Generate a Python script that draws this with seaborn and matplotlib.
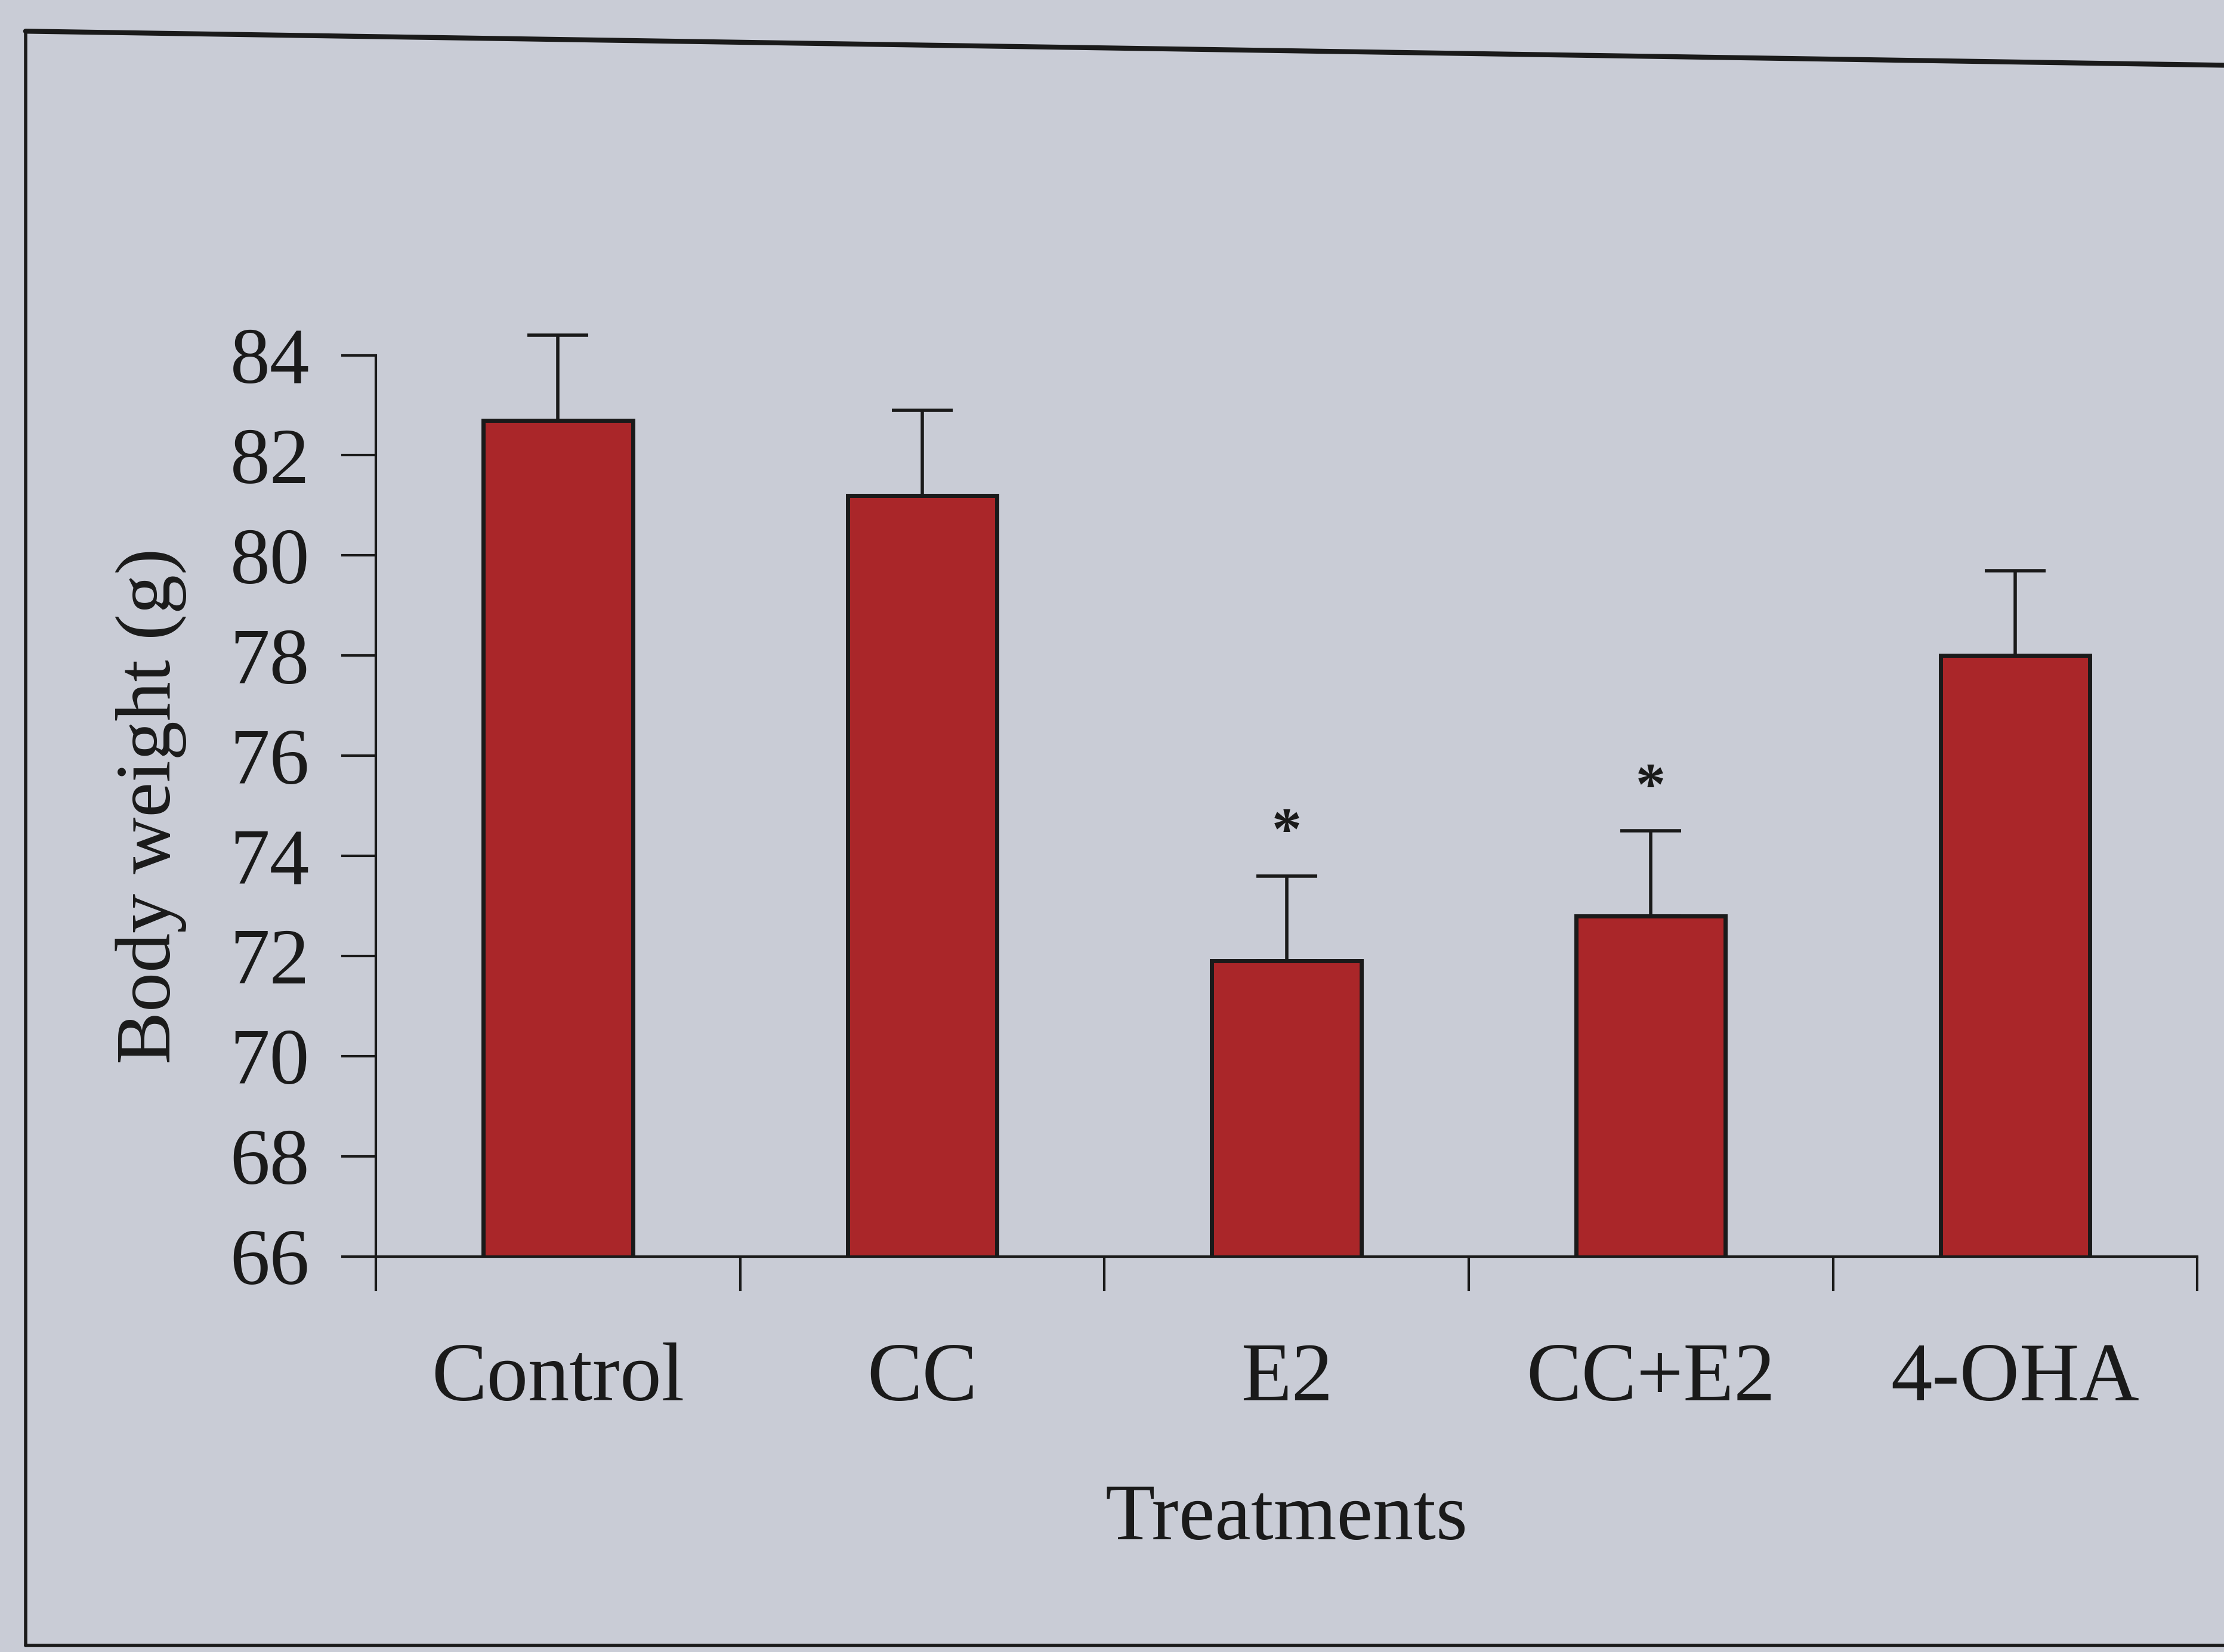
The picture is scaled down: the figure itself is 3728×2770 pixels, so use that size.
import matplotlib
matplotlib.use("Agg")
import matplotlib.pyplot as plt
import seaborn as sns
import pandas as pd
from matplotlib.lines import Line2D

categories = ["Control", "CC", "E2", "CC+E2", "4-OHA"]
means = [82.7, 81.2, 71.9, 72.8, 78.0]
errors = [1.7, 1.7, 1.7, 1.7, 1.7]
signif = ["", "", "*", "*", ""]
yticks = [66, 68, 70, 72, 74, 76, 78, 80, 82, 84]

sns.set_theme(style="white")
plt.rcParams['font.family'] = ['Liberation Serif', 'DejaVu Serif']

bg = "#c9ccd6"
ink = "#1a1a1a"
fig = plt.figure(figsize=(37.28, 27.70), dpi=100, facecolor=bg)
ax = fig.add_axes([0.169, 0.2395, 0.819, 0.5455])
ax.set_facecolor(bg)

df = pd.DataFrame({"Treatment": categories, "Weight": means})
sns.barplot(data=df, x="Treatment", y="Weight", color="#aa2629", width=0.41,
            edgecolor=ink, linewidth=5, ax=ax, saturation=1, errorbar=None)

eb = ax.errorbar(range(len(categories)), means, yerr=[[0]*len(errors), errors],
                 fmt="none", ecolor=ink, elinewidth=4, capsize=37, capthick=4, zorder=5)
for artist in list(eb.lines[1]) + list(eb.lines[2]):
    artist.set_clip_on(False)

for i, (m, e, s) in enumerate(zip(means, errors, signif)):
    if s:
        ax.text(i, m + e + 0.3, s, ha="center", va="bottom", fontsize=72,
                fontweight="bold", color=ink)

ax.set_ylim(66, 84)
ax.set_xlim(-0.5, len(categories) - 0.5)
ax.set_yticks(yticks)
ax.set_yticklabels([str(t) for t in yticks], fontsize=96)
ax.set_xticks([i - 0.5 for i in range(len(categories) + 1)])
ax.set_xticklabels([])
ax.set_xticks(range(len(categories)), minor=True)
ax.set_xticklabels(categories, minor=True, fontsize=100)
ax.tick_params(axis="x", which="major", direction="out", length=42, width=3, color=ink, bottom=True)
ax.tick_params(axis="x", which="minor", length=0, pad=104, labelcolor=ink)
ax.tick_params(axis="y", direction="out", length=42, width=3, color=ink, left=True, pad=38, labelcolor=ink)

for side in ["top", "right"]:
    ax.spines[side].set_visible(False)
for side in ["left", "bottom"]:
    ax.spines[side].set_color(ink)
    ax.spines[side].set_linewidth(3)

ax.set_xlabel("Treatments", fontsize=98, labelpad=78, color=ink)
ax.set_ylabel("Body weight (g)", fontsize=95, labelpad=52, color=ink)

# outer frame (photographed page box; top edge slightly tilted)
x0, yb = 0.0115, 0.004
fig.add_artist(Line2D([x0, x0], [yb, 1 - 22/1165], transform=fig.transFigure, color=ink, lw=4))
fig.add_artist(Line2D([x0, 1.0], [yb, yb], transform=fig.transFigure, color=ink, lw=4))
fig.add_artist(Line2D([x0, 1.0], [1 - 22/1165, 1 - 46/1165], transform=fig.transFigure, color=ink, lw=6))

fig.savefig("out.png", dpi=100, facecolor=bg)
